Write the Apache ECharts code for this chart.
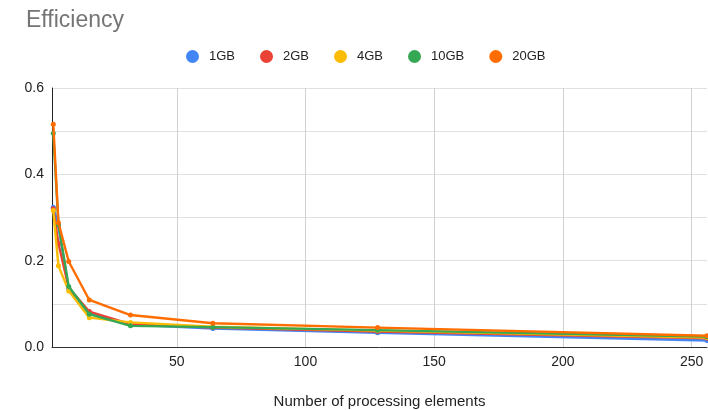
<!DOCTYPE html>
<html><head><meta charset="utf-8">
<script src="https://cdn.jsdelivr.net/npm/echarts@6/dist/echarts.min.js"></script>
<style>html,body{margin:0;padding:0;background:#fff}#c{width:708px;height:410px}</style>
</head><body><div id="c"></div>
<script>
const xValues = [2, 4, 8, 16, 32, 64, 128, 256];
const seriesNames = ['1GB', '2GB', '4GB', '10GB', '20GB'];
const s1GB  = [0.324, 0.280, 0.135, 0.078, 0.052, 0.043, 0.033, 0.015];
const s2GB  = [0.320, 0.240, 0.137, 0.082, 0.053, 0.045, 0.036, 0.020];
const s4GB  = [0.316, 0.188, 0.130, 0.068, 0.057, 0.047, 0.038, 0.022];
const s10GB = [0.495, 0.284, 0.140, 0.076, 0.049, 0.046, 0.039, 0.024];
const s20GB = [0.516, 0.288, 0.198, 0.109, 0.074, 0.055, 0.045, 0.026];
const xTicks = [50, 100, 150, 200, 250];
const colors = ['#4285F4', '#EA4335', '#FBBC04', '#34A853', '#FF6D01'];
const allData = [s1GB, s2GB, s4GB, s10GB, s20GB];
const FONT = 'Liberation Sans, Arial, sans-serif';

const chart = echarts.init(document.getElementById('c'), null, {renderer: 'canvas'});
chart.setOption({
  animation: false,
  color: colors,
  textStyle: {fontFamily: FONT},
  title: {
    text: 'Efficiency', left: 21, top: 4,
    textStyle: {fontFamily: FONT, fontSize: 23, fontWeight: 'normal', color: '#757575'}
  },
  legend: {
    top: 45, left: 181,
    icon: 'circle', itemWidth: 13, itemHeight: 13, itemGap: 25,
    textStyle: {fontFamily: FONT, fontSize: 13, color: '#222', padding: [0, 0, 0, 5]},
    data: seriesNames
  },
  grid: {left: 52, right: 1, top: 88, bottom: 63, containLabel: false, outerBoundsMode: 'none'},
  xAxis: {
    type: 'value', min: 1.5, max: 256,
    name: 'Number of processing elements', nameLocation: 'middle', nameGap: 47,
    nameTextStyle: {fontFamily: FONT, fontSize: 15, color: '#222'},
    axisLine: {show: true, lineStyle: {color: '#333', width: 1}},
    axisTick: {show: false, customValues: xTicks},
    axisLabel: {fontFamily: FONT, fontSize: 14, color: '#222', margin: 8, customValues: xTicks},
    splitLine: {show: true, lineStyle: {color: '#d0d0d0'}}
  },
  yAxis: {
    type: 'value', min: 0, max: 0.6, interval: 0.1,
    axisLine: {show: true, lineStyle: {color: '#222', width: 1}},
    axisTick: {show: false},
    axisLabel: {fontFamily: FONT, fontSize: 14, color: '#222', margin: 8,
      formatter: v => (Math.round(v * 10) % 2 === 0 ? v.toFixed(1) : '')},
    splitLine: {show: true, lineStyle: {color: '#e0e0e0'}}
  },
  series: seriesNames.map((n, i) => ({
    name: n, type: 'line',
    data: xValues.map((x, j) => [x, allData[i][j]]),
    symbol: 'circle', symbolSize: 5,
    lineStyle: {width: 2.4},
    itemStyle: {color: colors[i]},
    z: 2 + i
  }))
});
</script></body></html>
